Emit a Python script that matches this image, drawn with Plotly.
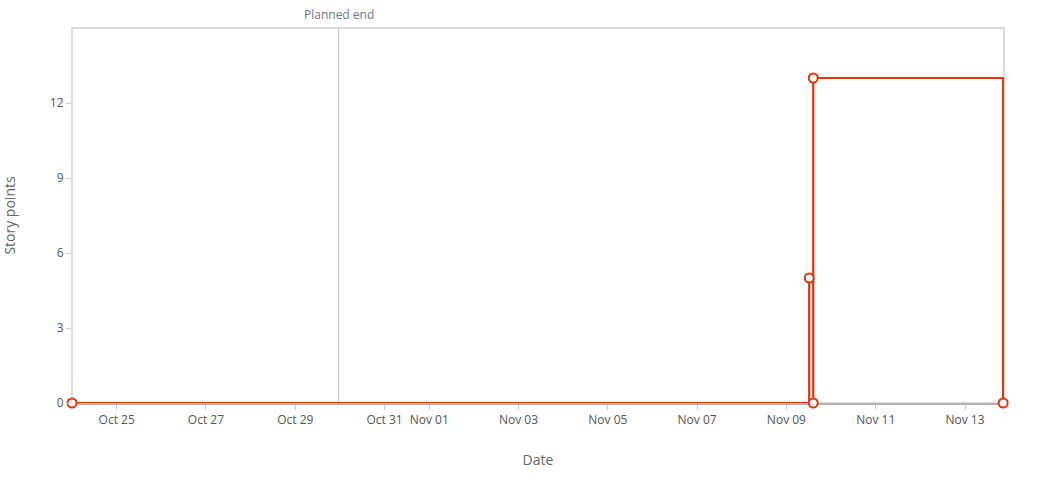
import plotly.graph_objects as go

# Data
step_dates = ["2023-10-24 00:00", "2023-11-09 12:15", "2023-11-09 14:25", "2023-11-09 14:25", "2023-11-13 20:30"]
step_values = [0, 5, 0, 13, 0]
tail_dates = ["2023-11-13 20:40", "2023-11-13 20:40"]
tail_values = [0, 8]
planned_end = "2023-10-29 23:15"
x_range = ["2023-10-24 00:00", "2023-11-13 20:57"]
tick_dates = ["2023-10-25", "2023-10-27", "2023-10-29", "2023-10-31", "2023-11-01",
              "2023-11-03", "2023-11-05", "2023-11-07", "2023-11-09", "2023-11-11", "2023-11-13"]
y_ticks = [0, 3, 6, 9, 12]

RED = "#de350b"
FONT = "Open Sans"

fig = go.Figure()
fig.add_trace(go.Scatter(
    x=tail_dates, y=tail_values, mode="lines",
    line=dict(color=RED, width=2.5), hoverinfo="skip", cliponaxis=False))
fig.add_trace(go.Scatter(
    x=step_dates, y=step_values, mode="lines+markers",
    line=dict(color=RED, width=2.2, shape="hv"),
    marker=dict(symbol="circle", size=9, color="white", line=dict(color=RED, width=2)),
    cliponaxis=False, hoverinfo="skip"))

fig.add_shape(type="rect", xref="paper", yref="paper", x0=0, x1=1, y0=0, y1=1,
              line=dict(color="#dddddd", width=2), layer="below")
fig.add_shape(type="line", xref="x", yref="paper", x0=planned_end, x1=planned_end, y0=0, y1=1,
              line=dict(color="#c1c7d0", width=1), layer="below")
fig.add_annotation(x=planned_end, y=1, xref="x", yref="paper", yanchor="bottom", yshift=3,
                   text="Planned end", showarrow=False,
                   font=dict(family=FONT, size=12, color="#6b778c"))

fig.update_layout(
    width=1045, height=500,
    margin=dict(l=72, r=41, t=28, b=97),
    plot_bgcolor="white", paper_bgcolor="white",
    showlegend=False,
    font=dict(family=FONT, size=12, color="#555555"),
    xaxis=dict(
        range=x_range, tickvals=tick_dates, tickformat="%b %d",
        showgrid=False, zeroline=False, automargin=False,
        showline=True, linecolor="#b3b3b3", linewidth=2, layer="below traces",
        ticks="outside", ticklen=5, tickcolor="#cccccc",
        tickfont=dict(family=FONT, size=12, color="#555555"),
        title=dict(text="Date", font=dict(family=FONT, size=14, color="#666666"), standoff=28),
    ),
    yaxis=dict(
        range=[0, 15], tickvals=y_ticks, automargin=False,
        showgrid=False, zeroline=False, showline=False,
        ticks="outside", ticklen=5, tickcolor="#cccccc",
        tickfont=dict(family=FONT, size=12, color="#555555"),
        title=dict(text="Story points", font=dict(family=FONT, size=14, color="#666666"), standoff=36),
    ),
)

fig.write_html("out.html")
